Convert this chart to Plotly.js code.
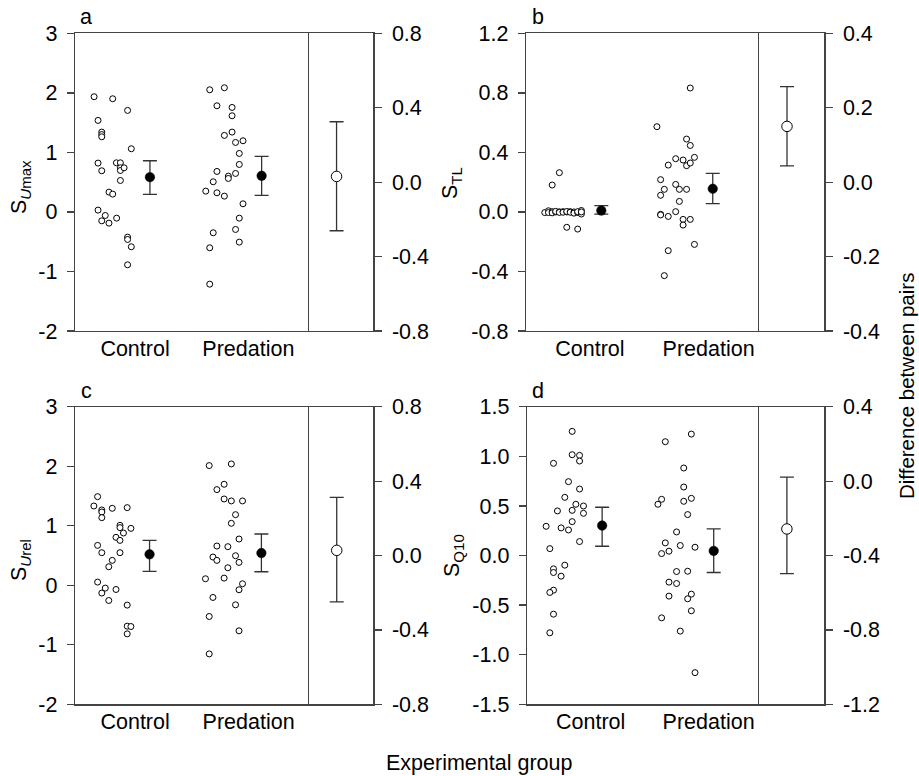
<!DOCTYPE html>
<html>
<head>
<meta charset="utf-8">
<script src="https://cdn.plot.ly/plotly-3.0.1.min.js"></script>
<style>html,body{margin:0;padding:0;background:#fff;}#chart{width:919px;height:776px;}</style>
</head>
<body>
<div id="chart"></div>
<script>
// ---------- DATA ----------
var groups = ["Control", "Predation"];

// Panel a: S_Umax
var aCtrlX = [0.082,0.162,0.226,0.099,0.115,0.115,0.115,0.242,0.099,0.115,0.178,0.195,0.195,0.195,0.211,0.195,0.146,0.162,0.099,0.130,0.115,0.146,0.179,0.226,0.226,0.242,0.226];
var aCtrlY = [1.936,1.902,1.706,1.538,1.342,1.300,1.263,1.062,0.821,0.692,0.826,0.826,0.742,0.697,0.742,0.529,0.333,0.300,0.031,-0.059,-0.149,-0.188,-0.104,-0.423,-0.462,-0.585,-0.888];
var aPredX = [0.579,0.642,0.610,0.675,0.675,0.675,0.642,0.690,0.722,0.706,0.706,0.610,0.690,0.659,0.659,0.594,0.562,0.610,0.642,0.722,0.706,0.690,0.594,0.706,0.579,0.579];
var aPredY = [2.053,2.087,1.784,1.756,1.616,1.342,1.286,1.168,1.196,0.983,0.798,0.681,0.647,0.602,0.563,0.507,0.350,0.322,0.266,0.137,-0.104,-0.294,-0.350,-0.507,-0.602,-1.213];
var aMeanX = [0.322, 0.802];
var aMean = [0.585, 0.608];
var aMeanErrUp = [0.275, 0.325];
var aMeanErrDn = [0.291, 0.331];
var aDiff = [0.031], aDiffErrUp = [0.294], aDiffErrDn = [0.292];

// Panel b: S_TL
var bCtrlX = [0.081,0.097,0.097,0.113,0.113,0.128,0.128,0.144,0.144,0.160,0.160,0.176,0.176,0.191,0.191,0.207,0.207,0.223,0.223,0.239,0.239,0.239,0.144,0.113,0.176,0.223];
var bCtrlY = [-0.004,0.008,-0.004,0.002,-0.006,0.000,0.004,0.001,-0.003,0.002,-0.002,0.000,0.003,0.002,-0.002,0.000,-0.008,-0.004,0.002,0.010,-0.014,0.000,0.264,0.181,-0.103,-0.115];
var bPredX = [0.709,0.565,0.693,0.709,0.614,0.646,0.678,0.693,0.709,0.727,0.581,0.597,0.581,0.646,0.662,0.693,0.662,0.581,0.581,0.614,0.646,0.678,0.709,0.678,0.727,0.614,0.597];
var bPredY = [0.833,0.573,0.490,0.447,0.315,0.358,0.349,0.311,0.329,0.367,0.217,0.152,0.112,0.185,0.152,0.152,0.071,-0.016,-0.020,-0.030,0.002,-0.050,-0.050,-0.088,-0.218,-0.260,-0.428];
var bMeanX = [0.325, 0.806];
var bMean = [0.009, 0.156];
var bMeanErrUp = [0.033, 0.103];
var bMeanErrDn = [0.023, 0.100];
var bDiff = [0.150], bDiffErrUp = [0.107], bDiffErrDn = [0.106];

// Panel c: S_Urel
var cCtrlX = [0.097,0.081,0.115,0.115,0.115,0.160,0.224,0.193,0.193,0.240,0.208,0.176,0.193,0.097,0.115,0.193,0.160,0.145,0.097,0.130,0.115,0.176,0.145,0.224,0.224,0.240,0.224];
var cCtrlY = [1.490,1.333,1.266,1.232,1.137,1.294,1.305,1.008,0.969,0.957,0.879,0.806,0.755,0.671,0.548,0.548,0.419,0.312,0.054,-0.047,-0.131,-0.070,-0.255,-0.333,-0.687,-0.693,-0.816];
var cPredX = [0.576,0.671,0.609,0.640,0.640,0.671,0.719,0.689,0.671,0.704,0.609,0.656,0.592,0.609,0.689,0.704,0.656,0.560,0.640,0.719,0.704,0.592,0.689,0.576,0.704,0.576];
var cPredY = [2.012,2.040,1.608,1.698,1.451,1.418,1.418,1.187,1.042,0.778,0.660,0.649,0.475,0.419,0.497,0.385,0.295,0.110,0.121,0.026,-0.075,-0.204,-0.328,-0.524,-0.765,-1.153];
var cMeanX = [0.320, 0.800];
var cMean = [0.520, 0.542];
var cMeanErrUp = [0.235, 0.320];
var cMeanErrDn = [0.287, 0.314];
var cDiff = [0.028], cDiffErrUp = [0.285], cDiffErrDn = [0.277];

// Panel d: S_Q10
var dCtrlX = [0.196,0.196,0.228,0.228,0.115,0.180,0.228,0.164,0.212,0.245,0.132,0.196,0.245,0.196,0.083,0.148,0.180,0.228,0.099,0.164,0.115,0.115,0.148,0.115,0.099,0.115,0.099];
var dCtrlY = [1.252,1.017,1.010,0.953,0.930,0.745,0.671,0.587,0.517,0.500,0.450,0.456,0.426,0.342,0.295,0.279,0.258,0.141,0.070,-0.097,-0.134,-0.171,-0.208,-0.349,-0.372,-0.591,-0.779];
var dPredX = [0.713,0.600,0.680,0.680,0.584,0.568,0.680,0.713,0.697,0.649,0.600,0.665,0.729,0.584,0.616,0.649,0.697,0.616,0.649,0.616,0.713,0.697,0.713,0.584,0.665,0.729];
var dPredY = [1.225,1.148,0.883,0.691,0.567,0.517,0.547,0.577,0.413,0.238,0.128,0.101,0.084,0.020,0.044,-0.161,-0.158,-0.268,-0.282,-0.409,-0.389,-0.436,-0.557,-0.628,-0.762,-1.181];
var dMeanX = [0.326, 0.810];
var dMean = [0.302, 0.047];
var dMeanErrUp = [0.185, 0.221];
var dMeanErrDn = [0.208, 0.218];
var dDiff = [-0.257], dDiffErrUp = [0.279], dDiffErrDn = [0.240];

var diffX = [0.44];

// tick values / labels
var tickA = [-2,-1,0,1,2,3], tickAtxt = ["-2","-1","0","1","2","3"];
var tickAR = [-0.8,-0.4,0,0.4,0.8], tickARtxt = ["-0.8","-0.4","0.0","0.4","0.8"];
var tickB = [-0.8,-0.4,0,0.4,0.8,1.2], tickBtxt = ["-0.8","-0.4","0.0","0.4","0.8","1.2"];
var tickBR = [-0.4,-0.2,0,0.2,0.4], tickBRtxt = ["-0.4","-0.2","0.0","0.2","0.4"];
var tickD = [-1.5,-1,-0.5,0,0.5,1,1.5], tickDtxt = ["-1.5","-1.0","-0.5","0.0","0.5","1.0","1.5"];
var tickDR = [-1.2,-0.8,-0.4,0,0.4], tickDRtxt = ["-1.2","-0.8","-0.4","0.0","0.4"];
var labelPosLeft = [0.258, 0.745], labelPosRight = [0.276, 0.788];

// ---------- LAYOUT HELPERS ----------
var W = 919, H = 776;
var FONT = "Liberation Sans, Arial, Helvetica, sans-serif";
var FS = 21.5;
var LC = "#444";
var panels = [
  {l:75, d:307.7, r:373.3, t:33.4, b:331, yr:[-2,3], yrR:[-0.8,0.8], tv:tickA, tt:tickAtxt, tvR:tickAR, ttR:tickARtxt, lp:labelPosLeft,
   cx:aCtrlX, cy:aCtrlY, px:aPredX, py:aPredY, mx:aMeanX, m:aMean, mu:aMeanErrUp, md:aMeanErrDn, df:aDiff, du:aDiffErrUp, dd:aDiffErrDn},
  {l:526, d:757.7, r:824.3, t:33.4, b:331, yr:[-0.8,1.2], yrR:[-0.4,0.4], tv:tickB, tt:tickBtxt, tvR:tickBR, ttR:tickBRtxt, lp:labelPosRight,
   cx:bCtrlX, cy:bCtrlY, px:bPredX, py:bPredY, mx:bMeanX, m:bMean, mu:bMeanErrUp, md:bMeanErrDn, df:bDiff, du:bDiffErrUp, dd:bDiffErrDn},
  {l:75, d:308, r:373.3, t:406.8, b:704.3, yr:[-2,3], yrR:[-0.8,0.8], tv:tickA, tt:tickAtxt, tvR:tickAR, ttR:tickARtxt, lp:labelPosLeft,
   cx:cCtrlX, cy:cCtrlY, px:cPredX, py:cPredY, mx:cMeanX, m:cMean, mu:cMeanErrUp, md:cMeanErrDn, df:cDiff, du:cDiffErrUp, dd:cDiffErrDn},
  {l:527, d:757.5, r:824.3, t:406.8, b:704.3, yr:[-1.5,1.5], yrR:[-1.2,0.4], tv:tickD, tt:tickDtxt, tvR:tickDR, ttR:tickDRtxt, lp:labelPosRight,
   cx:dCtrlX, cy:dCtrlY, px:dPredX, py:dPredY, mx:dMeanX, m:dMean, mu:dMeanErrUp, md:dMeanErrDn, df:dDiff, du:dDiffErrUp, dd:dDiffErrDn}
];

var layout = {
  width: W, height: H,
  margin: {l:0, r:0, t:0, b:0},
  paper_bgcolor: "#fff", plot_bgcolor: "rgba(0,0,0,0)",
  showlegend: false,
  font: {family: FONT, size: FS, color: "#000"},
  annotations: []
};
var data = [];

function ax(n){ return n === 1 ? "" : String(n); }

panels.forEach(function(p, i){
  var nL = 2*i + 1, nR = 2*i + 2;
  var ydom = [1 - p.b/H, 1 - p.t/H];
  layout["xaxis" + ax(nL)] = {
    domain: [p.l/W, p.d/W], range: [0,1], anchor: "y" + ax(nL),
    showline: true, mirror: true, linecolor: LC, linewidth: 1.3,
    ticks: "", tickvals: p.lp, ticktext: groups, tickfont: {size: FS, family: FONT},
    ticklabelstandoff: -2,
    showgrid: false, zeroline: false, fixedrange: true
  };
  layout["yaxis" + ax(nL)] = {
    domain: ydom, range: p.yr, anchor: "x" + ax(nL), side: "left",
    showline: true, mirror: true, linecolor: LC, linewidth: 1.3,
    ticks: "outside", ticklen: 7, tickwidth: 1.3, tickcolor: LC,
    tickvals: p.tv, ticktext: p.tt, tickfont: {size: FS, family: FONT},
    ticklabelstandoff: 5,
    showgrid: false, zeroline: false, fixedrange: true
  };
  layout["xaxis" + ax(nR)] = {
    domain: [p.d/W, p.r/W], range: [0,1], anchor: "y" + ax(nR),
    showline: true, mirror: true, linecolor: LC, linewidth: 1.3,
    ticks: "", showticklabels: false,
    showgrid: false, zeroline: false, fixedrange: true
  };
  layout["yaxis" + ax(nR)] = {
    domain: ydom, range: p.yrR, anchor: "x" + ax(nR), side: "right",
    showline: true, linecolor: LC, linewidth: 1.3,
    ticks: "outside", ticklen: 7, tickwidth: 1.3, tickcolor: LC,
    tickvals: p.tvR, ticktext: p.ttR, tickfont: {size: FS, family: FONT},
    ticklabelstandoff: 6,
    showgrid: false, zeroline: false, fixedrange: true
  };
  var xa = "x" + ax(nL), ya = "y" + ax(nL), xb = "x" + ax(nR), yb = "y" + ax(nR);
  var openMarker = {symbol: "circle", size: 6, color: "#fff", line: {color: "#000", width: 1}};
  data.push({type: "scatter", mode: "markers", x: p.cx, y: p.cy, xaxis: xa, yaxis: ya, marker: openMarker, cliponaxis: false});
  data.push({type: "scatter", mode: "markers", x: p.px, y: p.py, xaxis: xa, yaxis: ya, marker: openMarker, cliponaxis: false});
  data.push({type: "scatter", mode: "markers", x: p.mx, y: p.m, xaxis: xa, yaxis: ya,
    marker: {symbol: "circle", size: 9.5, color: "#000", line: {color: "#000", width: 0.5}},
    error_y: {type: "data", symmetric: false, array: p.mu, arrayminus: p.md, color: "#333", thickness: 1.3, width: 7}});
  data.push({type: "scatter", mode: "markers", x: diffX, y: p.df, xaxis: xb, yaxis: yb,
    marker: {symbol: "circle", size: 10.5, color: "#fff", line: {color: "#000", width: 1}},
    error_y: {type: "data", symmetric: false, array: p.du, arrayminus: p.dd, color: "#333", thickness: 1.3, width: 7}});
});

// ---------- TEXT ----------
function ann(text, x, y, opts){
  var a = {text: text, x: x/W, y: 1 - y/H, xref: "paper", yref: "paper", showarrow: false,
           xanchor: "center", yanchor: "middle", font: {family: FONT, size: FS, color: "#000"}};
  for (var k in opts) a[k] = opts[k];
  layout.annotations.push(a);
}
var letters = ["a","b","c","d"];
var letterPos = [[86,17],[538,17],[86,391],[538,391]];
letters.forEach(function(t, i){ ann(t, letterPos[i][0], letterPos[i][1], {}); });

var yTitles = ["S<sub><i>U</i>max</sub>", "S<sub>TL</sub>", "S<sub><i>U</i>rel</sub>", "S<sub>Q10</sub>"];
var yTitlePos = [[20,187],[451,183],[20,560],[453,556]];
yTitles.forEach(function(t, i){ ann(t, yTitlePos[i][0], yTitlePos[i][1], {textangle: -90}); });

ann("Difference between pairs", 906, 386, {textangle: -90, borderpad: 0, font: {family: FONT, size: 20.5, color: "#000"}});
ann("Experimental group", 479, 763, {});

Plotly.newPlot("chart", data, layout, {staticPlot: true, displayModeBar: false});
</script>
</body>
</html>
